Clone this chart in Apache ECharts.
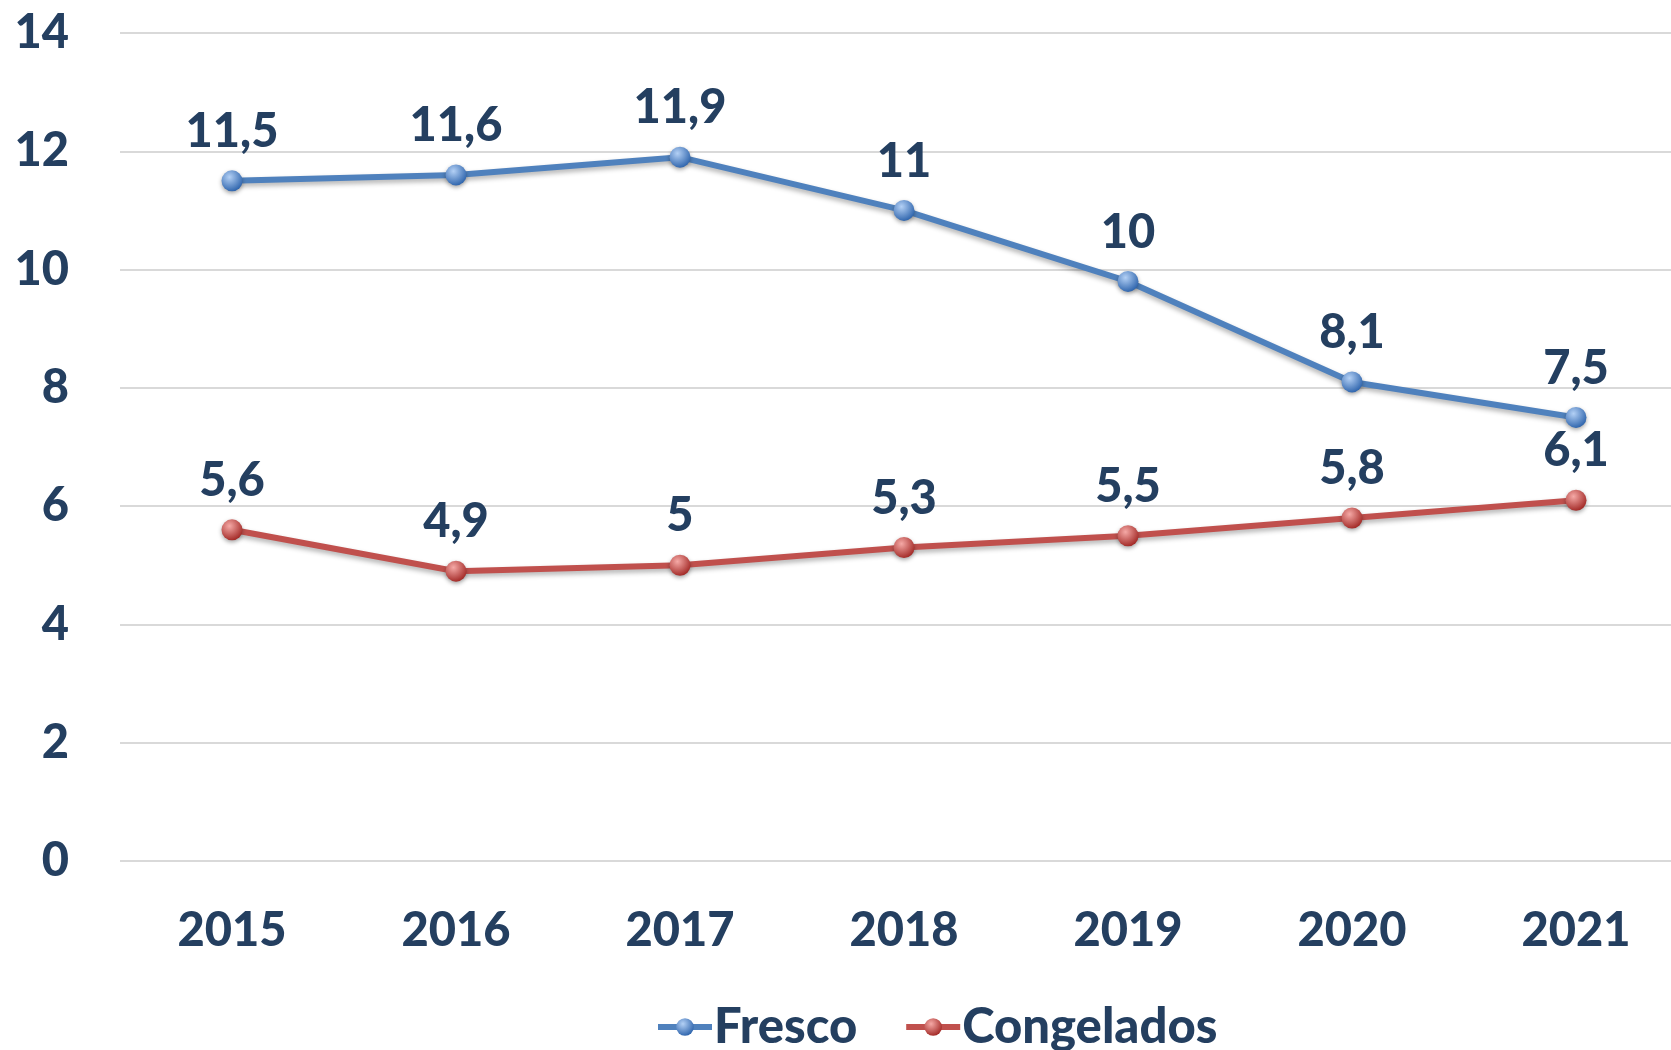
<!DOCTYPE html>
<html>
<head>
<meta charset="utf-8">
<script src="https://cdn.jsdelivr.net/npm/echarts@6/dist/echarts.min.js"></script>
<style>
  html, body { margin: 0; padding: 0; background: #fff; overflow: hidden; }
  /* la cuadrícula sigue un poco más allá del borde derecho */
  #chart-main { width: 1688px; height: 1050px; }
</style>
</head>
<body>
<div id="chart-main"></div>
<script>
// datos
const years = ['2015', '2016', '2017', '2018', '2019', '2020', '2021']
const fresco = [11.5, 11.6, 11.9, 11.0, 9.8, 8.1, 7.5]
const frescoLabels = ['11,5', '11,6', '11,9', '11', '10', '8,1', '7,5']
const congelados = [5.6, 4.9, 5.0, 5.3, 5.5, 5.8, 6.1]
const congeladosLabels = ['5,6', '4,9', '5', '5,3', '5,5', '5,8', '6,1']

const textColor = '#243f60'
const font = 'Lato'

function ball(light, dark) {
  return new echarts.graphic.RadialGradient(0.38, 0.32, 0.7, [
    { offset: 0, color: light },
    { offset: 1, color: dark }
  ])
}

function lineSeries(name, data, labels, color, light, dark) {
  return {
    name: name,
    type: 'line',
    data: data,
    symbol: 'circle',
    symbolSize: 21,
    lineStyle: {
      color: color,
      width: 6,
      shadowColor: 'rgba(0,0,0,0.3)',
      shadowBlur: 5,
      shadowOffsetY: 3
    },
    itemStyle: {
      color: ball(light, dark),
      shadowColor: 'rgba(0,0,0,0.35)',
      shadowBlur: 4,
      shadowOffsetY: 2
    },
    label: {
      show: true,
      position: 'top',
      distance: 15,
      formatter: (p) => labels[p.dataIndex],
      color: textColor,
      fontFamily: font,
      fontWeight: 900,
      fontSize: 47,
      lineHeight: 47
    },
    emphasis: { disabled: true }
  }
}

const myChart = echarts.init(document.getElementById('chart-main'))
myChart.setOption({
  animation: false,
  backgroundColor: '#fff',
  grid: { left: 120, right: 0, top: 33, bottom: 189, containLabel: false },
  legend: {
    left: 650,
    top: 997,
    itemWidth: 54,
    itemHeight: 22,
    itemGap: 46,
    lineStyle: { width: 6 },
    textStyle: {
      color: textColor,
      fontFamily: font,
      fontWeight: 900,
      fontSize: 49,
      lineHeight: 50,
      padding: [0, 0, 0, -3]
    },
    data: ['Fresco', 'Congelados']
  },
  xAxis: {
    type: 'category',
    data: years,
    boundaryGap: true,
    axisLine: { show: false },
    axisTick: { show: false },
    axisLabel: {
      margin: 46,
      color: textColor,
      fontFamily: font,
      fontWeight: 900,
      fontSize: 47,
      lineHeight: 47
    }
  },
  yAxis: {
    type: 'value',
    min: 0,
    max: 14,
    interval: 2,
    axisLine: { show: false },
    axisTick: { show: false },
    splitLine: { lineStyle: { color: '#d9d9d9', width: 2 } },
    axisLabel: {
      margin: 51,
      color: textColor,
      fontFamily: font,
      fontWeight: 900,
      fontSize: 47
    }
  },
  series: [
    lineSeries('Fresco', fresco, frescoLabels, '#4f81bd', '#b3d0f5', '#2f65ad'),
    lineSeries('Congelados', congelados, congeladosLabels, '#c0504d', '#f5a9a6', '#a32a27')
  ]
})
</script>
</body>
</html>
